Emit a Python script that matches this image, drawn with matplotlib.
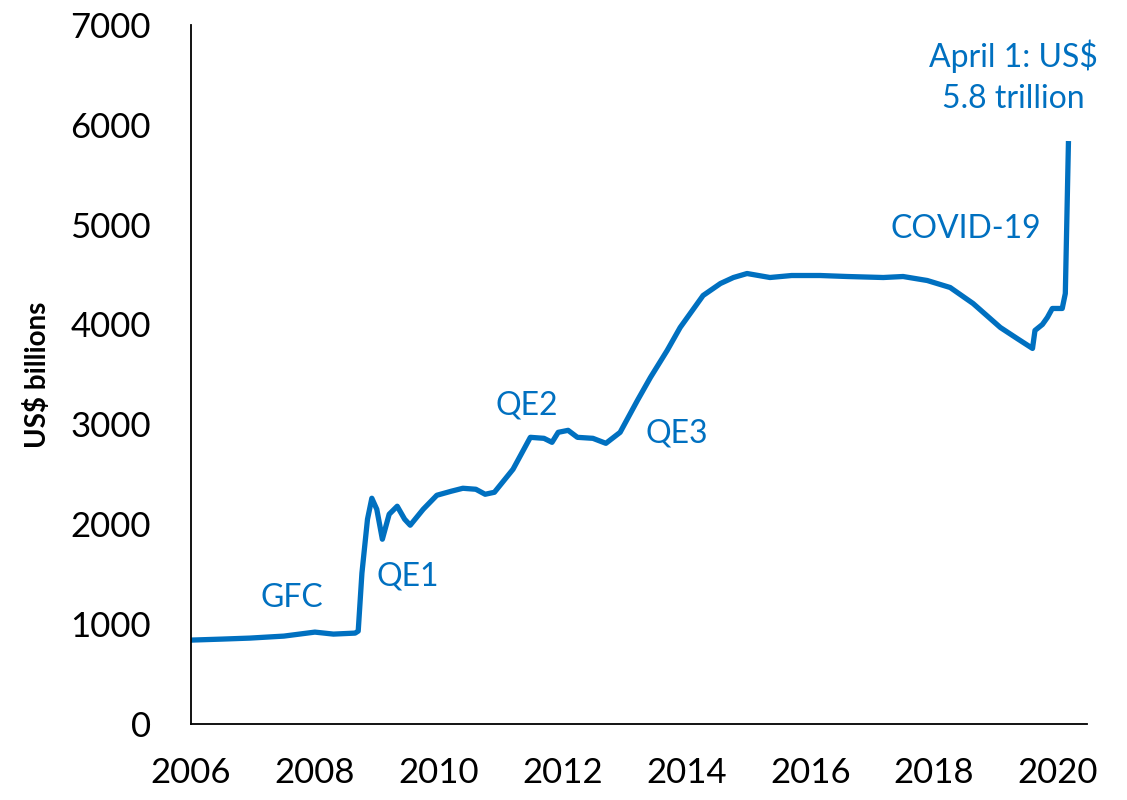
import matplotlib
matplotlib.use("Agg")
import matplotlib.pyplot as plt

# Fed balance sheet, US$ billions (decimal years)
years = [2006.0, 2006.5, 2006.95, 2007.5, 2008.0, 2008.3, 2008.65, 2008.7,
         2008.76, 2008.85, 2008.92, 2009.0, 2009.09, 2009.2, 2009.33, 2009.45,
         2009.54, 2009.75, 2009.97, 2010.2, 2010.39, 2010.6, 2010.75, 2010.9,
         2011.2, 2011.48, 2011.7, 2011.83, 2011.93, 2012.09, 2012.24, 2012.49,
         2012.7, 2012.93, 2013.21, 2013.42, 2013.69, 2013.9, 2014.27, 2014.55,
         2014.76, 2014.98, 2015.35, 2015.7, 2016.16, 2016.6, 2017.18, 2017.5,
         2017.89, 2018.26, 2018.63, 2019.07, 2019.34, 2019.59, 2019.63, 2019.75,
         2019.83, 2019.91, 2020.07, 2020.12, 2020.17]
assets = [840, 850, 860, 880, 920, 900, 910, 930,
          1510, 2050, 2260, 2150, 1850, 2100, 2180, 2050,
          1990, 2150, 2290, 2330, 2360, 2350, 2300, 2320,
          2550, 2870, 2860, 2820, 2920, 2940, 2870, 2860,
          2810, 2920, 3240, 3470, 3740, 3970, 4290, 4410,
          4470, 4510, 4470, 4490, 4490, 4480, 4470, 4480,
          4440, 4370, 4210, 3970, 3860, 3760, 3940, 4000,
          4070, 4160, 4160, 4310, 5810]

notes = ["GFC", "QE1", "QE2", "QE3", "COVID-19", "April 1: US$\n5.8 trillion"]
note_x = [2007.63, 2009.5, 2011.43, 2013.84, 2018.52, 2019.28]
note_y = [1260, 1480, 3190, 2910, 4960, 6480]

blue = "#0070C0"

fig = plt.figure(figsize=(11.27, 8.0), dpi=100)
ax = fig.add_axes([0.1695, 0.095, 0.795, 0.874])

ax.plot(years, assets, color=blue, lw=3.8, solid_joinstyle="round")

for t, x, y in zip(notes, note_x, note_y):
    ax.text(x, y, t, color=blue, fontsize=23, family="Lato",
            ha="center", va="center", linespacing=1.45)

ax.set_xlim(2006, 2020.47)
ax.set_ylim(0, 7000)
ax.set_xticks(range(2006, 2021, 2))
ax.set_yticks(range(0, 7001, 1000))
ax.tick_params(axis="y", length=0, pad=29, labelsize=25)
ax.tick_params(axis="x", length=0, pad=24, labelsize=25)
for lab in ax.get_xticklabels() + ax.get_yticklabels():
    lab.set_family("Lato")

ax.set_ylabel("US$ billions", fontsize=20, fontweight="bold", family="Lato",
              labelpad=14)
ax.spines["top"].set_visible(False)
ax.spines["right"].set_visible(False)
ax.spines["left"].set_linewidth(1.3)
ax.spines["bottom"].set_linewidth(1.3)

fig.savefig("out.png", dpi=100)
